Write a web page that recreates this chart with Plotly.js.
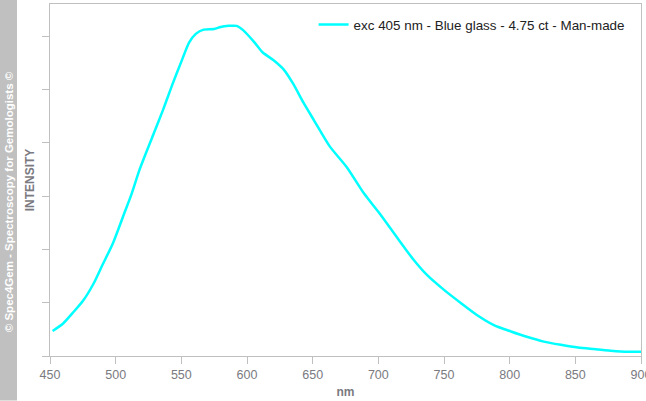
<!DOCTYPE html>
<html>
<head>
<meta charset="utf-8">
<script src="https://cdn.plot.ly/plotly-3.0.1.min.js"></script>
<style>
  html, body { margin: 0; padding: 0; background: #fff; }
  #chart { width: 646px; height: 401px; }
</style>
</head>
<body>
<div id="chart"></div>
<script>
// Wavelength (nm)
const wavelength = [452, 460, 467, 475, 483, 490, 498, 506, 512, 518, 528, 536, 543, 550, 556, 561, 567, 575, 580, 586, 592, 597, 605, 612, 620, 628, 635, 643, 651, 663, 676, 689, 701, 714, 727, 737, 750, 763, 775, 788, 801, 813, 826, 839, 852, 864, 877, 890, 900];
// Relative intensity (arbitrary units)
const intensity = [0.47, 0.61, 0.80, 1.03, 1.35, 1.71, 2.12, 2.64, 3.03, 3.48, 4.11, 4.61, 5.08, 5.52, 5.88, 6.04, 6.12, 6.13, 6.17, 6.19, 6.19, 6.11, 5.90, 5.69, 5.55, 5.37, 5.11, 4.75, 4.42, 3.93, 3.54, 3.05, 2.67, 2.23, 1.80, 1.52, 1.24, 0.99, 0.77, 0.58, 0.46, 0.36, 0.27, 0.21, 0.16, 0.13, 0.10, 0.08, 0.08];
const seriesName = "exc 405 nm - Blue glass - 4.75 ct - Man-made";
const xTickValues = [450, 500, 550, 600, 650, 700, 750, 800, 850, 900];
const copyrightText = "© Spec4Gem - Spectroscopy for Gemologists ©";

const axisColor = "#c0c0c0";
const textColor = "#7a7a80";

const trace = {
  x: wavelength,
  y: intensity,
  type: "scatter",
  mode: "lines",
  name: seriesName,
  line: { color: "#00ffff", width: 2.5, shape: "spline", smoothing: 0.7 },
  hoverinfo: "x+y"
};

const layout = {
  width: 646,
  height: 401,
  margin: { l: 50, r: 5, t: 4, b: 44.5 },
  paper_bgcolor: "#ffffff",
  plot_bgcolor: "#ffffff",
  font: { family: "Arial, 'Liberation Sans', sans-serif", size: 12, color: textColor },
  showlegend: true,
  legend: {
    x: 0.446, y: 0.985, xanchor: "left", yanchor: "top",
    bgcolor: "rgba(0,0,0,0)",
    font: { size: 13.4, color: "#222222" }
  },
  xaxis: {
    range: [450, 900],
    tickvals: xTickValues,
    ticktext: xTickValues.map(String),
    ticks: "outside",
    ticklen: 7,
    tickcolor: axisColor,
    tickfont: { size: 12.5, color: textColor },
    ticklabeloverflow: "allow",
    showline: true,
    linecolor: axisColor,
    linewidth: 1,
    mirror: true,
    showgrid: false,
    zeroline: false,
    title: { text: "<b>nm</b>", font: { size: 12, color: textColor }, standoff: 6 }
  },
  yaxis: {
    range: [0, 6.6],
    dtick: 1,
    tick0: 0,
    ticks: "outside",
    ticklen: 7,
    tickcolor: axisColor,
    showticklabels: false,
    showline: true,
    linecolor: axisColor,
    linewidth: 1,
    mirror: true,
    showgrid: false,
    zeroline: false,
    title: { text: "<b>INTENSITY</b>", font: { size: 12, color: textColor }, standoff: 4 }
  },
  shapes: [{
    type: "rect", xref: "paper", yref: "paper", layer: "below",
    x0: -50 / 591, x1: -33 / 591, y0: -44.5 / 352.5, y1: 1 + 4 / 352.5,
    fillcolor: "#c0c0c0", line: { width: 0 }
  }],
  annotations: [{
    text: "<b>" + copyrightText + "</b>",
    xref: "paper", yref: "paper",
    x: -41.5 / 591, y: (356.5 - 202) / 352.5,
    xanchor: "center", yanchor: "middle",
    textangle: -90,
    showarrow: false,
    font: { size: 11.5, color: "#ffffff", family: "Arial, 'Liberation Sans', sans-serif" }
  }]
};

Plotly.newPlot("chart", [trace], layout, { displayModeBar: false });
</script>
</body>
</html>
